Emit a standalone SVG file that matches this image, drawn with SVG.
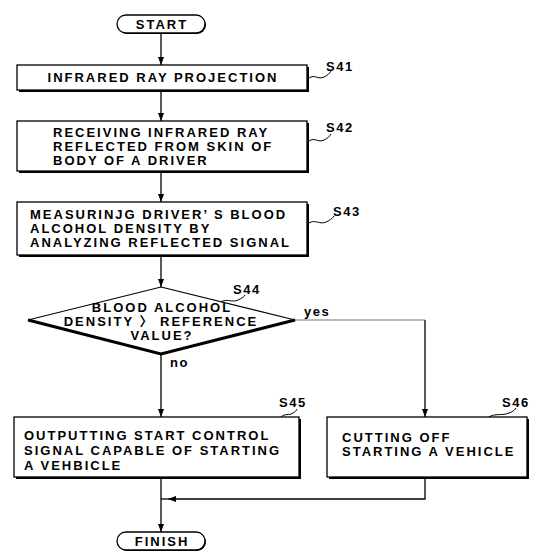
<svg xmlns="http://www.w3.org/2000/svg" width="536" height="552" viewBox="0 0 536 552">
<defs>
<style>
.box{fill:#fff;stroke:#000;stroke-width:1.3}
.sh{fill:#000}
.t{font-family:"Liberation Sans",Arial,"Noto Sans CJK KR",sans-serif;font-weight:bold;font-size:13px;letter-spacing:2px;fill:#000}
.m{text-anchor:middle}
.lbl{font-family:"Liberation Sans",Arial,sans-serif;font-weight:bold;font-size:13px;letter-spacing:1.5px;fill:#000}
.conn{fill:none;stroke:#000;stroke-width:1.3}
.yes{fill:none;stroke:#777;stroke-width:1.2}
.sq{fill:none;stroke:#000;stroke-width:1}
</style>
<marker id="ah" viewBox="0 0 10 10" refX="10" refY="5" markerWidth="8" markerHeight="6" preserveAspectRatio="none" orient="auto" markerUnits="userSpaceOnUse"><path d="M0,0 L10,5 L0,10 z" fill="#000"/></marker>
</defs>
<rect width="536" height="552" fill="#fff"/>

<g id="connectors">
<path class="conn" d="M161,33 V65" marker-end="url(#ah)"/>
<path class="conn" d="M161,90 V121" marker-end="url(#ah)"/>
<path class="conn" d="M161,171 V202" marker-end="url(#ah)"/>
<path class="conn" d="M161,255 V287" marker-end="url(#ah)"/>
<path class="conn" d="M161,354 V417" marker-end="url(#ah)"/>
<path class="yes" d="M295,320 H425"/>
<path class="conn" d="M425,320 V417" marker-end="url(#ah)"/>
<path class="conn" d="M425,477 V499 H168" marker-end="url(#ah)"/>
<path class="conn" d="M168,499 H161"/>
<path class="conn" d="M161,477 V532" marker-end="url(#ah)"/>
<text class="lbl" x="304" y="316">yes</text>
<text class="lbl" x="170" y="367">no</text>
</g>

<g id="start">
<rect x="118" y="16" width="88" height="18" rx="9" class="sh"/>
<rect x="117" y="15" width="88" height="18" rx="9" class="box"/>
<text class="t m" x="162" y="28.5">START</text>
</g>

<g id="s41">
<rect x="19" y="67" width="290" height="25" class="sh"/>
<rect x="17" y="65" width="290" height="25" class="box"/>
<text class="t m" x="163" y="82">INFRARED RAY PROJECTION</text>
<path class="sq" d="M309,78 C315,74 318,80 324,77 C328,75 329,74 331,71"/>
<text class="lbl" x="326" y="71">S41</text>
</g>

<g id="s42">
<rect x="19" y="123" width="290" height="50" class="sh"/>
<rect x="17" y="121" width="290" height="50" class="box"/>
<text class="t" x="53" y="137">RECEIVING INFRARED RAY</text>
<text class="t" x="53" y="151">REFLECTED FROM SKIN OF</text>
<text class="t" x="53" y="165">BODY OF A DRIVER</text>
<path class="sq" d="M309,141 C315,137 318,143 324,140 C328,138 329,137 331,134"/>
<text class="lbl" x="326" y="132">S42</text>
</g>

<g id="s43">
<rect x="19" y="204" width="290" height="53" class="sh"/>
<rect x="17" y="202" width="290" height="53" class="box"/>
<text class="t" x="30" y="219">MEASURINJG DRIVER’ S BLOOD</text>
<text class="t" x="30" y="233">ALCOHOL DENSITY BY</text>
<text class="t" x="30" y="247">ANALYZING REFLECTED SIGNAL</text>
<path class="sq" d="M309,223 C315,219 320,225 326,222 C330,220 332,219 334,216"/>
<text class="lbl" x="333" y="216">S43</text>
</g>

<g id="s44">
<polygon points="161,287 295,320 161,354 28,320" fill="#fff" stroke="#000" stroke-width="1.2"/>
<polyline points="28,320 161,354 295,320" fill="none" stroke="#000" stroke-width="3"/>
<text class="t m" x="162" y="312">BLOOD ALCOHOL</text>
<text class="t m" x="161" y="326">DENSITY 〉 REFERENCE</text>
<text class="t m" x="162" y="340">VALUE?</text>
<path class="sq" d="M221,302 C227,298 232,303 238,300 C242,298 244,297 245,295"/>
<text class="lbl" x="233" y="294">S44</text>
</g>

<g id="s45">
<rect x="16" y="419" width="285" height="60" class="sh"/>
<rect x="14" y="417" width="285" height="60" class="box"/>
<text class="t" x="24" y="440">OUTPUTTING START CONTROL</text>
<text class="t" x="24" y="455">SIGNAL CAPABLE OF STARTING</text>
<text class="t" x="24" y="470">A VEHBICLE</text>
<path class="sq" d="M281,417 C285,413 289,416 293,413 C295,412 296,411 297,409"/>
<text class="lbl" x="279" y="407">S45</text>
</g>

<g id="s46">
<rect x="329" y="419" width="200" height="60" class="sh"/>
<rect x="327" y="417" width="200" height="60" class="box"/>
<text class="t" x="342" y="442">CUTTING OFF</text>
<text class="t" x="342" y="456">STARTING A VEHICLE</text>
<path class="sq" d="M489,417 C495,413 502,416 509,413 C512,412 514,411 516,408"/>
<text class="lbl" x="502" y="407">S46</text>
</g>

<g id="finish">
<rect x="118" y="533" width="88" height="18" rx="9" class="sh"/>
<rect x="117" y="532" width="88" height="18" rx="9" class="box"/>
<text class="t m" x="162" y="545.5">FINISH</text>
</g>
</svg>
